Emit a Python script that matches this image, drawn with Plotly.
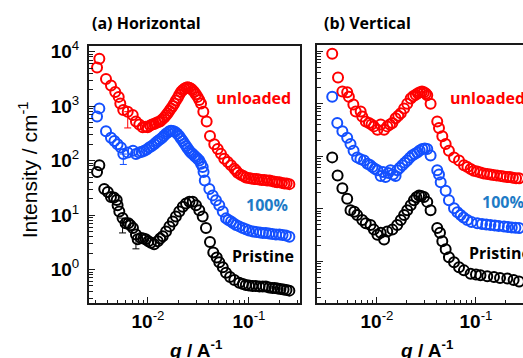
import plotly.graph_objects as go

# ---------------- data: (a) Horizontal ----------------
h_unl_q = [0.00313, 0.0033, 0.00384, 0.0043, 0.00474, 0.00513, 0.00532, 0.00569, 0.0063, 0.00706,
           0.0076, 0.0082, 0.00887, 0.0095, 0.00993, 0.0105, 0.011, 0.0115, 0.012, 0.0126,
           0.01315, 0.0138, 0.0145, 0.0151, 0.01566, 0.0163, 0.0169, 0.0176, 0.0182, 0.0189,
           0.0197, 0.0204, 0.0212, 0.022, 0.0229, 0.0238, 0.0247, 0.0257, 0.0267, 0.0277,
           0.0287, 0.0298, 0.031, 0.0322, 0.0335, 0.0353, 0.0381, 0.0411, 0.0453, 0.049,
           0.0528, 0.0569, 0.0616, 0.0664, 0.0716, 0.0744, 0.0773, 0.083, 0.088, 0.093,
           0.099, 0.105, 0.112, 0.119, 0.126, 0.134, 0.142, 0.151, 0.16, 0.17,
           0.18, 0.19, 0.2, 0.212, 0.224, 0.236, 0.251]
h_unl_I = [5100, 7400, 3150, 2400, 1820, 1480, 1120, 850, 790, 690,
           525, 460, 410, 420, 410, 440, 460, 470, 490, 510,
           525, 570, 620, 680, 740, 820, 910, 1010, 1120, 1270,
           1420, 1620, 1820, 1950, 2080, 2170, 2220, 2180, 2080, 1950,
           1820, 1650, 1480, 1300, 1120, 790, 525, 282, 200, 163,
           133, 108, 94, 82, 71, 66, 60, 55, 52, 49,
           48, 47, 46, 46, 45, 44, 44, 43, 43, 42,
           41, 40, 40, 39, 38, 38, 37]

h_100_q = [0.00313, 0.0033, 0.00384, 0.0043, 0.00465, 0.005, 0.0054, 0.0057, 0.0063, 0.0071,
           0.0076, 0.0082, 0.0087, 0.0092, 0.0097, 0.0103, 0.0109, 0.0115, 0.012, 0.0125,
           0.0131, 0.0138, 0.0144, 0.0151, 0.0158, 0.0164, 0.0169, 0.0177, 0.0186, 0.0195,
           0.0204, 0.0212, 0.0221, 0.023, 0.0238, 0.0247, 0.0257, 0.0267, 0.0277, 0.0288,
           0.0299, 0.031, 0.0322, 0.0335, 0.0348, 0.0355, 0.0365, 0.0405, 0.0437, 0.0471,
           0.0508, 0.055, 0.0592, 0.0625, 0.0664, 0.07, 0.0744, 0.08, 0.0867, 0.093,
           0.1, 0.109, 0.118, 0.128, 0.137, 0.147, 0.158, 0.17, 0.185, 0.2,
           0.215, 0.232, 0.251]
h_100_I = [645, 910, 347, 263, 229, 200, 174, 132, 141, 151,
           132, 141, 145, 151, 160, 174, 186, 200, 215, 229,
           245, 263, 285, 310, 330, 345, 355, 350, 337, 310,
           282, 255, 229, 205, 186, 168, 151, 140, 132, 123,
           115, 108, 100, 88, 76, 62, 43, 30, 23, 18.7,
           15.2, 11.6, 8.7, 8.1, 7.6, 7.1, 6.6, 6.2, 5.8, 5.5,
           5.2, 5.0, 4.9, 4.8, 4.7, 4.7, 4.6, 4.5, 4.4, 4.4,
           4.3, 4.2, 4.0]

h_pri_q = [0.00313, 0.0033, 0.00369, 0.004, 0.0043, 0.0046, 0.0049, 0.005, 0.0052, 0.0056,
           0.006, 0.0064, 0.0067, 0.0071, 0.0076, 0.0079, 0.0085, 0.009, 0.0095, 0.0101,
           0.0107, 0.0115, 0.0125, 0.0132, 0.014, 0.0151, 0.0163, 0.0176, 0.0189, 0.0204,
           0.0221, 0.0238, 0.0257, 0.0277, 0.0299, 0.0322, 0.0348, 0.0375, 0.0411, 0.0443,
           0.0479, 0.0508, 0.055, 0.0592, 0.0649, 0.0716, 0.0802, 0.087, 0.093, 0.1,
           0.108, 0.117, 0.127, 0.137, 0.147, 0.158, 0.17, 0.18, 0.192, 0.205,
           0.22, 0.235, 0.251]
h_pri_I = [62, 82, 30, 26.5, 21.5, 21, 19, 15.2, 11.6, 8.8,
           7.1, 7.1, 6.5, 5.8, 4.4, 3.6, 3.8, 3.7, 3.6, 3.3,
           3.1, 2.9, 3.3, 3.7, 4.1, 5.0, 6.2, 7.6, 9.4, 11.6,
           14.2, 16.3, 17.5, 17.5, 15.2, 12.3, 9.4, 5.8, 3.2, 2.06,
           1.67, 1.36, 1.10, 0.87, 0.73, 0.64, 0.57, 0.54, 0.52, 0.51,
           0.50, 0.50, 0.49, 0.49, 0.49, 0.47, 0.46, 0.46, 0.45, 0.44,
           0.43, 0.42, 0.41]

# error bars (a): q, I, lower error
h_unl_err = ([0.0063], [790], [392])
h_100_err = ([0.0057], [132], [47])
h_pri_err = ([0.0056, 0.0076], [8.8, 3.6], [4.1, 1.2])

# ---------------- data: (b) Vertical ----------------
v_unl_q = [0.00353, 0.00404, 0.00447, 0.005, 0.0052, 0.00577, 0.0061, 0.00684, 0.0071, 0.0077,
           0.0083, 0.0088, 0.0093, 0.0101, 0.0109, 0.0118, 0.0127, 0.0135, 0.0143, 0.0154,
           0.0164, 0.0174, 0.0188, 0.0202, 0.0219, 0.0232, 0.0246, 0.0259, 0.0272, 0.0285,
           0.0298, 0.0311, 0.0322, 0.0348, 0.0406, 0.0423, 0.0457, 0.0494, 0.0533, 0.06,
           0.0674, 0.0756, 0.082, 0.0883, 0.095, 0.103, 0.111, 0.12, 0.13, 0.14,
           0.15, 0.163, 0.178, 0.19, 0.205, 0.22, 0.236, 0.254, 0.272]
v_unl_I = [8960, 3160, 1710, 1660, 1350, 970, 710, 710, 570, 460,
           430, 400, 370, 320, 400, 320, 370, 400, 430, 530,
           590, 660, 810, 1000, 1250, 1380, 1480, 1580, 1660, 1700,
           1660, 1560, 1450, 1000, 460, 345, 240, 170, 127, 95,
           83, 67, 62, 57, 53, 51, 49, 47, 46, 45,
           44, 43, 42, 41, 40, 40, 39, 38, 38]

v_100_q = [0.00353, 0.00397, 0.00447, 0.005, 0.0054, 0.0058, 0.0063, 0.0068, 0.0074, 0.008,
           0.0085, 0.009, 0.0095, 0.0101, 0.0109, 0.0115, 0.0122, 0.013, 0.0137, 0.0145,
           0.0154, 0.016, 0.017, 0.018, 0.0191, 0.0202, 0.0214, 0.0227, 0.024, 0.0255,
           0.027, 0.0287, 0.0304, 0.0322, 0.0348, 0.0406, 0.0423, 0.044, 0.0494, 0.0533,
           0.06, 0.065, 0.07, 0.075, 0.0817, 0.09, 0.103, 0.115, 0.127, 0.14,
           0.155, 0.17, 0.192, 0.21, 0.23, 0.25, 0.272]
v_100_I = [1350, 430, 300, 225, 170, 127, 95, 88, 83, 72,
           68, 62, 58, 54, 42, 50, 40, 48, 54, 45,
           42, 54, 60, 67, 75, 83, 93, 103, 110, 118,
           128, 137, 140, 137, 103, 54, 45, 32, 22, 14.5,
           10.2, 8.6, 7.6, 6.8, 6.1, 5.6, 5.3, 5.1, 5.0, 4.9,
           4.8, 4.7, 4.6, 4.5, 4.4, 4.35, 4.3]

v_pri_q = [0.00353, 0.004, 0.00447, 0.005, 0.0054, 0.0059, 0.0063, 0.0071, 0.0077, 0.0086,
           0.0093, 0.0101, 0.0109, 0.0118, 0.0127, 0.0143, 0.016, 0.0174, 0.0188, 0.0202,
           0.0219, 0.0236, 0.025, 0.0266, 0.028, 0.0298, 0.0322, 0.0348, 0.0406, 0.0433,
           0.0457, 0.0494, 0.0533, 0.06, 0.0674, 0.0756, 0.0883, 0.1, 0.111, 0.13,
           0.152, 0.175, 0.207, 0.24, 0.272]
v_pri_I = [95, 43, 24.5, 15.5, 9.4, 8.8, 7.6, 6.1, 5.3, 4.9,
           4.0, 3.2, 3.5, 2.6, 3.7, 4.0, 4.9, 6.1, 7.6, 9.4,
           11.7, 14.5, 16.5, 17.9, 17.5, 16.7, 13.5, 9.4, 4.3, 3.5,
           2.4, 1.7, 1.19, 0.96, 0.77, 0.67, 0.58, 0.56, 0.54, 0.52,
           0.50, 0.48, 0.47, 0.44, 0.41]

series_names = ["unloaded", "100%", "Pristine"]
marker_colors = ["#ff0000", "#1450ff", "#000000"]
label_colors = ["#ff0000", "#1e7bc6", "#000000"]

x_tickvals = [0.01, 0.1]
x_ticktext = ["<b>10</b><sup>-2</sup>", "<b>10</b><sup>-1</sup>"]
y_tickvals = [1, 10, 100, 1000, 10000]
y_ticktext = ["<b>10</b><sup>0</sup>", "<b>10</b><sup>1</sup>", "<b>10</b><sup>2</sup>",
              "<b>10</b><sup>3</sup>", "<b>10</b><sup>4</sup>"]
x_minor = [m * 10 ** e for e in (-3, -2, -1) for m in range(2, 10)]
y_minor = [m * 10.0 ** e for e in (-1, 0, 1, 2, 3, 4) for m in range(2, 10)]

fig = go.Figure()

panels = [
    ("x", "y", [(h_unl_q, h_unl_I), (h_100_q, h_100_I), (h_pri_q, h_pri_I)],
     [h_unl_err, h_100_err, h_pri_err]),
    ("x2", "y2", [(v_unl_q, v_unl_I), (v_100_q, v_100_I), (v_pri_q, v_pri_I)], [None, None, None]),
]
for xa, ya, data, errs in panels:
    for (q, I), err, name, col in zip(data, errs, series_names, marker_colors):
        if err is not None:
            fig.add_trace(go.Scatter(
                x=err[0], y=err[1], mode="markers", xaxis=xa, yaxis=ya, showlegend=False,
                marker=dict(size=1, color="rgba(0,0,0,0)"),
                error_y=dict(type="data", symmetric=False, array=[0] * len(err[2]),
                             arrayminus=err[2], color=col, thickness=1, width=3.5)))
        fig.add_trace(go.Scatter(
            x=q, y=I, mode="markers", name=name, xaxis=xa, yaxis=ya, showlegend=False,
            marker=dict(symbol="circle-open", size=10, color=col, line=dict(width=2, color=col))))

W, H = 523, 358
axis_common = dict(type="log", showgrid=False, zeroline=False, showline=True,
                   linecolor="#1a1a1a", linewidth=2, ticks="inside", ticklen=6,
                   tickwidth=1.3, tickcolor="#1a1a1a",
                   tickfont=dict(family="Liberation Sans, Arial", size=19, color="#000"))
minor_style = dict(ticks="inside", ticklen=3.5, tickwidth=1, tickcolor="#1a1a1a")

fig.update_layout(
    width=W, height=H, margin=dict(l=0, r=0, t=0, b=0),
    paper_bgcolor="white", plot_bgcolor="white",
    xaxis=dict(axis_common, domain=[89 / W, 300 / W], range=[-2.584, -0.495], mirror=True,
               tickvals=x_tickvals, ticktext=x_ticktext, anchor="y",
               minor=dict(minor_style, tickvals=x_minor)),
    yaxis=dict(axis_common, domain=[1 - 302 / H, 1 - 39 / H], range=[-0.619, 4.102], mirror=True,
               tickvals=y_tickvals, ticktext=y_ticktext, anchor="x", ticklabelstandoff=4,
               minor=dict(minor_style, tickvals=y_minor)),
    xaxis2=dict(axis_common, domain=[317 / W, 1.0], range=[-2.606, -0.525], mirror=True,
                tickvals=x_tickvals, ticktext=x_ticktext, anchor="y2",
                minor=dict(minor_style, tickvals=x_minor)),
    yaxis2=dict(axis_common, domain=[1 - 302 / H, 1 - 38 / H], range=[-0.80, 4.115], mirror=False,
                tickvals=y_tickvals, showticklabels=False, anchor="x2",
                minor=dict(minor_style, tickvals=y_minor)),
)

ann = []
title_font = dict(family="Open Sans", size=16, color="#000")
ann.append(dict(text="<b>(a) Horizontal</b>", x=90 / W, y=1 - 15 / H, xanchor="left", yanchor="middle",
                font=title_font))
ann.append(dict(text="<b>(b) Vertical</b>", x=322 / W, y=1 - 15 / H, xanchor="left", yanchor="middle",
                font=title_font))
# series labels
lab_pos_a = [(253.5, 92, "center"), (266.5, 201, "center"), (263, 254, "center")]
lab_pos_b = [(448, 92, "left"), (480, 198, "left"), (467, 251, "left")]
for pos in (lab_pos_a, lab_pos_b):
    for (px, py, anc), name, col in zip(pos, series_names, label_colors):
        ann.append(dict(text="<b>%s</b>" % name, x=px / W, y=1 - py / H, xanchor=anc, yanchor="middle",
                        font=dict(family="Open Sans", size=16, color=col)))
# axis titles
ann.append(dict(text="Intensity / cm<sup>-1</sup>", x=28 / W, y=1 - 166 / H, textangle=-90,
                xanchor="center", yanchor="middle",
                font=dict(family="Liberation Sans, Arial", size=21, color="#000")))
for cx in (196, 427):
    ann.append(dict(text="<b><i>q</i> / A<sup>-1</sup></b>", x=cx / W, y=1 - 349 / H,
                    xanchor="center", yanchor="middle",
                    font=dict(family="Liberation Sans, Arial", size=19, color="#000")))
for a in ann:
    a.update(xref="paper", yref="paper", showarrow=False)
fig.update_layout(annotations=ann)

fig.write_html("out.html", config={"displayModeBar": False},
               post_script="document.body.style.margin='0px';document.body.style.overflow='hidden';")
